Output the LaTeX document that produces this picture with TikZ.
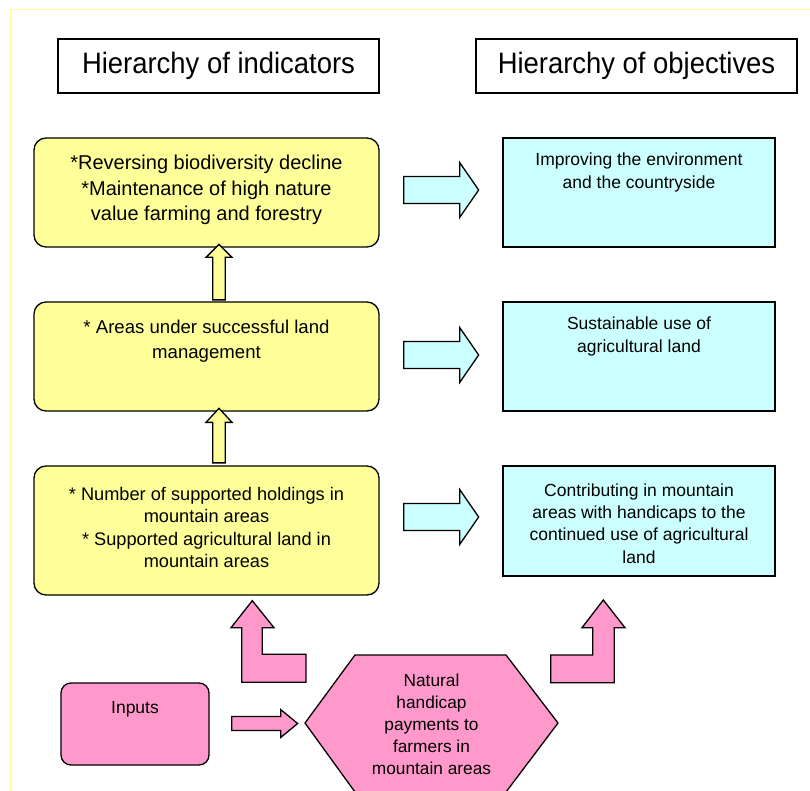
\documentclass[tikz,border=0pt]{standalone}
\usepackage{fontspec}
\usepackage{graphicx}
\setmainfont{Liberation Sans}
\usetikzlibrary{calc}
\definecolor{yfill}{HTML}{FFFF99}
\definecolor{cfill}{HTML}{CCFFFF}
\definecolor{pfill}{HTML}{FF99CC}
\definecolor{framey}{HTML}{FFFF99}
% right block arrow: style, start (shaft left-centre), length, shaft half, head half, head length
\newcommand{\rblock}[6]{\draw[#1] #2 ++(0,-#4) -- ++(#3-#6,0) -- ++(0,-#5+#4) -- ++(#6,#5) -- ++(-#6,#5) -- ++(0,-#5+#4) -- ++(-#3+#6,0) -- cycle;}
% up block arrow: style, start (shaft bottom-centre), length, shaft half, head half, head length
\newcommand{\ublock}[6]{\draw[#1] #2 ++(-#4,0) -- ++(0,-#3+#6) -- ++(-#5+#4,0) -- ++(#5,-#6) -- ++(#5,#6) -- ++(-#5+#4,0) -- ++(0,#3-#6) -- cycle;}
\newcommand{\narrowtitle}[1]{\scalebox{0.93}[1]{#1}}
\begin{document}
\begin{tikzpicture}[x=1pt,y=-1pt,
  outl/.style={draw=black,line width=1.3pt,line join=miter},
  titlebox/.style={outl,fill=white,inner sep=0pt,minimum width=321pt,minimum height=54pt,font=\fontsize{29.5}{31}\selectfont},
  ybox/.style={outl,fill=yfill,rounded corners=12pt,minimum width=345pt,inner sep=0pt},
  cbox/.style={outl,fill=cfill,minimum width=272pt,inner sep=0pt},
  pbox/.style={outl,fill=pfill,rounded corners=10pt,inner sep=0pt},
  txt/.style={inner sep=0pt,align=center},
  yarrow/.style={outl,fill=yfill},
  carrow/.style={outl,fill=cfill},
  parrow/.style={outl,fill=pfill}]
\useasboundingbox (0,0) rectangle (810,791);
\fill[white] (0,0) rectangle (810,791);
\draw[framey,line width=1.5pt] (10.5,9.5) rectangle (850,830);

% titles
\node[titlebox] (t1) at (218.5,66) {\narrowtitle{Hierarchy of indicators}};
\node[titlebox] (t2) at (636.5,66) {\narrowtitle{Hierarchy of objectives}};

% indicator boxes
\node[ybox,minimum height=109pt] (y1) at (206.5,192.5) {};
\node[ybox,minimum height=109pt] (y2) at (206.5,356.5) {};
\node[ybox,minimum height=129pt] (y3) at (206.5,530.5) {};
\node[txt,font=\fontsize{20}{25.5}\selectfont] (y1t) at (206.5,190) {*Reversing biodiversity decline\\*Maintenance of high nature\\value farming and forestry};
\node[txt,font=\fontsize{18.6}{25}\selectfont] (y2t) at (206.5,341.5) {* Areas under successful land\\management};
\node[txt,font=\fontsize{18.2}{22.3}\selectfont] (y3t) at (206.5,527.5) {* Number of supported holdings in\\mountain areas\\* Supported agricultural land in\\mountain areas};

% objective boxes
\node[cbox,minimum height=109pt] (c1) at (639,192.5) {};
\node[cbox,minimum height=109pt] (c2) at (639,356.5) {};
\node[cbox,minimum height=110pt] (c3) at (639,521) {};
\node[txt,font=\fontsize{17.5}{23}\selectfont] (c1t) at (639,172.5) {Improving the environment\\and the countryside};
\node[txt,font=\fontsize{17.5}{23}\selectfont] (c2t) at (639,336.5) {Sustainable use of\\agricultural land};
\node[txt,font=\fontsize{17.5}{22.2}\selectfont] (c3t) at (639,523.5) {Contributing in mountain\\areas with handicaps to the\\continued use of agricultural\\land};

% inputs box and hexagon
\node[pbox,minimum width=148pt,minimum height=82pt] (inp) at (135,724) {};
\node[txt,font=\fontsize{17.5}{22}\selectfont] (inpt) at (135,709) {Inputs};
\draw[outl,fill=pfill] (305,723) -- (355,655) -- (506,655) -- (558,723) -- (506,792) -- (355,792) -- cycle;
\coordinate (hex) at (431.5,723);
\node[txt,font=\fontsize{17.3}{22}\selectfont] (hext) at (431.5,724) {Natural\\handicap\\payments to\\farmers in\\mountain areas};

% cyan arrows
\rblock{carrow}{($(y1.east)+(24,-2.5)$)}{75}{13.5}{27.5}{19}
\rblock{carrow}{($(y2.east)+(24,-1.5)$)}{75}{13.5}{27.5}{19}
\rblock{carrow}{($(y3.east)+(24,-13.5)$)}{75}{13.5}{27.5}{19}

% yellow up arrows
\ublock{yarrow}{($(y2.north)+(12.5,-1.5)$)}{55.5}{6.3}{13}{13}
\ublock{yarrow}{($(y3.north)+(12.5,-2.5)$)}{54.5}{6.3}{13}{14}

% pink arrows
\rblock{parrow}{($(inp.east)+(22,-0.5)$)}{66}{7}{14}{17}
\draw[parrow] (252.3,600.7) -- (274,627.7) -- (262.3,627.7) -- (262.3,654.3) -- (306,654.3) -- (306,682.3) -- (241.7,682.3) -- (241.7,627.7) -- (231,627.7) -- cycle;
\draw[parrow] (603.3,600) -- (625,627.7) -- (614.3,627.7) -- (614.3,682.7) -- (550.7,682.7) -- (550.7,655) -- (592.7,655) -- (592.7,627.7) -- (582,627.7) -- cycle;
\end{tikzpicture}
\end{document}
